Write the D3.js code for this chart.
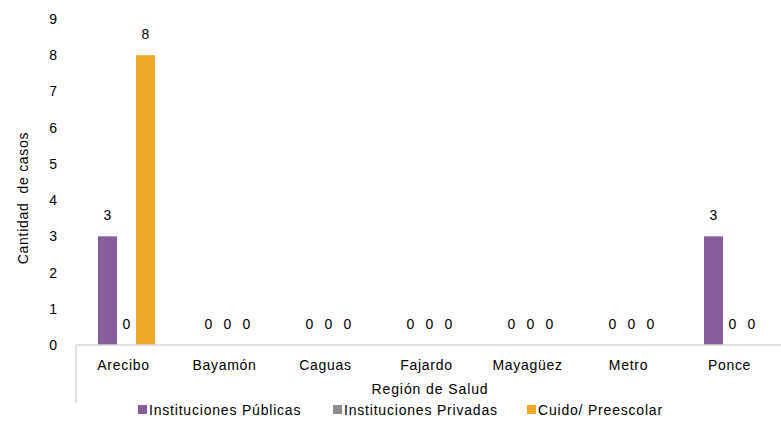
<!DOCTYPE html>
<html>
<head>
<meta charset="utf-8">
<script src="https://cdn.jsdelivr.net/npm/d3@7"></script>
<style>
  body { margin: 0; background: #fff; }
  svg text { font-family: Arial, "Liberation Sans", sans-serif; fill: #000; }
</style>
</head>
<body>
<div id="svg-container"></div>
<script>
// data
const regions = ["Arecibo", "Bayamón", "Caguas", "Fajardo", "Mayagüez", "Metro", "Ponce"];
const seriesNames = ["Instituciones Públicas", "Instituciones Privadas", "Cuido/ Preescolar"];
const publicas = [3, 0, 0, 0, 0, 0, 3];
const privadas = [0, 0, 0, 0, 0, 0, 0];
const cuido = [8, 0, 0, 0, 0, 0, 0];
const yTicks = [0, 1, 2, 3, 4, 5, 6, 7, 8, 9];
const colors = ["#875e9b", "#8c8c8c", "#f0a829"];

const width = 781, height = 422;
const margin = { top: 19, right: 0, bottom: 77, left: 76 };

const svg = d3.select("#svg-container").append("svg")
  .attr("width", width).attr("height", height);

// scales
const xScale = d3.scaleBand().domain(regions).range([margin.left, 783]);
const yScale = d3.scaleLinear().domain([0, 9]).range([height - margin.bottom, margin.top]);
const barW = 19;

const series = [publicas, privadas, cuido];

// y labels
svg.append("g").selectAll("text").data(yTicks).join("text")
  .attr("x", 57).attr("y", (d) => yScale(d) + 5)
  .attr("text-anchor", "end").attr("font-size", 14)
  .text((d) => d);

// bars + value labels
series.forEach((vals, i) => {
  const g = svg.append("g");
  g.selectAll("rect").data(vals).join("rect")
    .attr("x", (d, j) => xScale(regions[j]) + xScale.bandwidth() / 2 + (i - 1) * barW - barW / 2)
    .attr("y", (d) => yScale(d))
    .attr("width", barW)
    .attr("height", (d) => yScale(0) - yScale(d))
    .attr("fill", colors[i]);
  g.selectAll("text").data(vals).join("text")
    .attr("x", (d, j) => xScale(regions[j]) + xScale.bandwidth() / 2 + (i - 1) * barW)
    .attr("y", (d) => yScale(d) - 16)
    .attr("text-anchor", "middle").attr("font-size", 14)
    .text((d) => d);
});

// x axis
const base = yScale(0);
svg.append("line")
  .attr("x1", margin.left).attr("x2", width).attr("y1", base).attr("y2", base)
  .attr("stroke", "#d9d9d9").attr("stroke-width", 1.5);
svg.append("line")
  .attr("x1", margin.left).attr("x2", margin.left).attr("y1", base).attr("y2", 403)
  .attr("stroke", "#d9d9d9").attr("stroke-width", 1.5);

svg.append("g").selectAll("text").data(regions).join("text")
  .attr("x", (d) => xScale(d) + xScale.bandwidth() / 2 - 3)
  .attr("y", 370)
  .attr("text-anchor", "middle").attr("font-size", 14).attr("letter-spacing", 0.7)
  .text((d) => d);

svg.append("text")
  .attr("x", 430).attr("y", 394)
  .attr("text-anchor", "middle").attr("font-size", 14).attr("letter-spacing", 0.9)
  .text("Región de Salud");

svg.append("text")
  .attr("transform", "translate(28,198) rotate(-90)")
  .attr("text-anchor", "middle").attr("font-size", 14).attr("letter-spacing", 0.7)
  .style("white-space", "pre")
  .text("Cantidad  de casos");

// legend
const legendX = [138, 333, 527];
const lg = svg.append("g").selectAll("g").data(seriesNames).join("g")
  .attr("transform", (d, i) => `translate(${legendX[i]},405)`);
lg.append("rect").attr("width", 9).attr("height", 9).attr("fill", (d, i) => colors[i]);
lg.append("text").attr("x", 11).attr("y", 10).attr("font-size", 14).attr("letter-spacing", 0.8)
  .text((d) => d);
</script>
</body>
</html>
